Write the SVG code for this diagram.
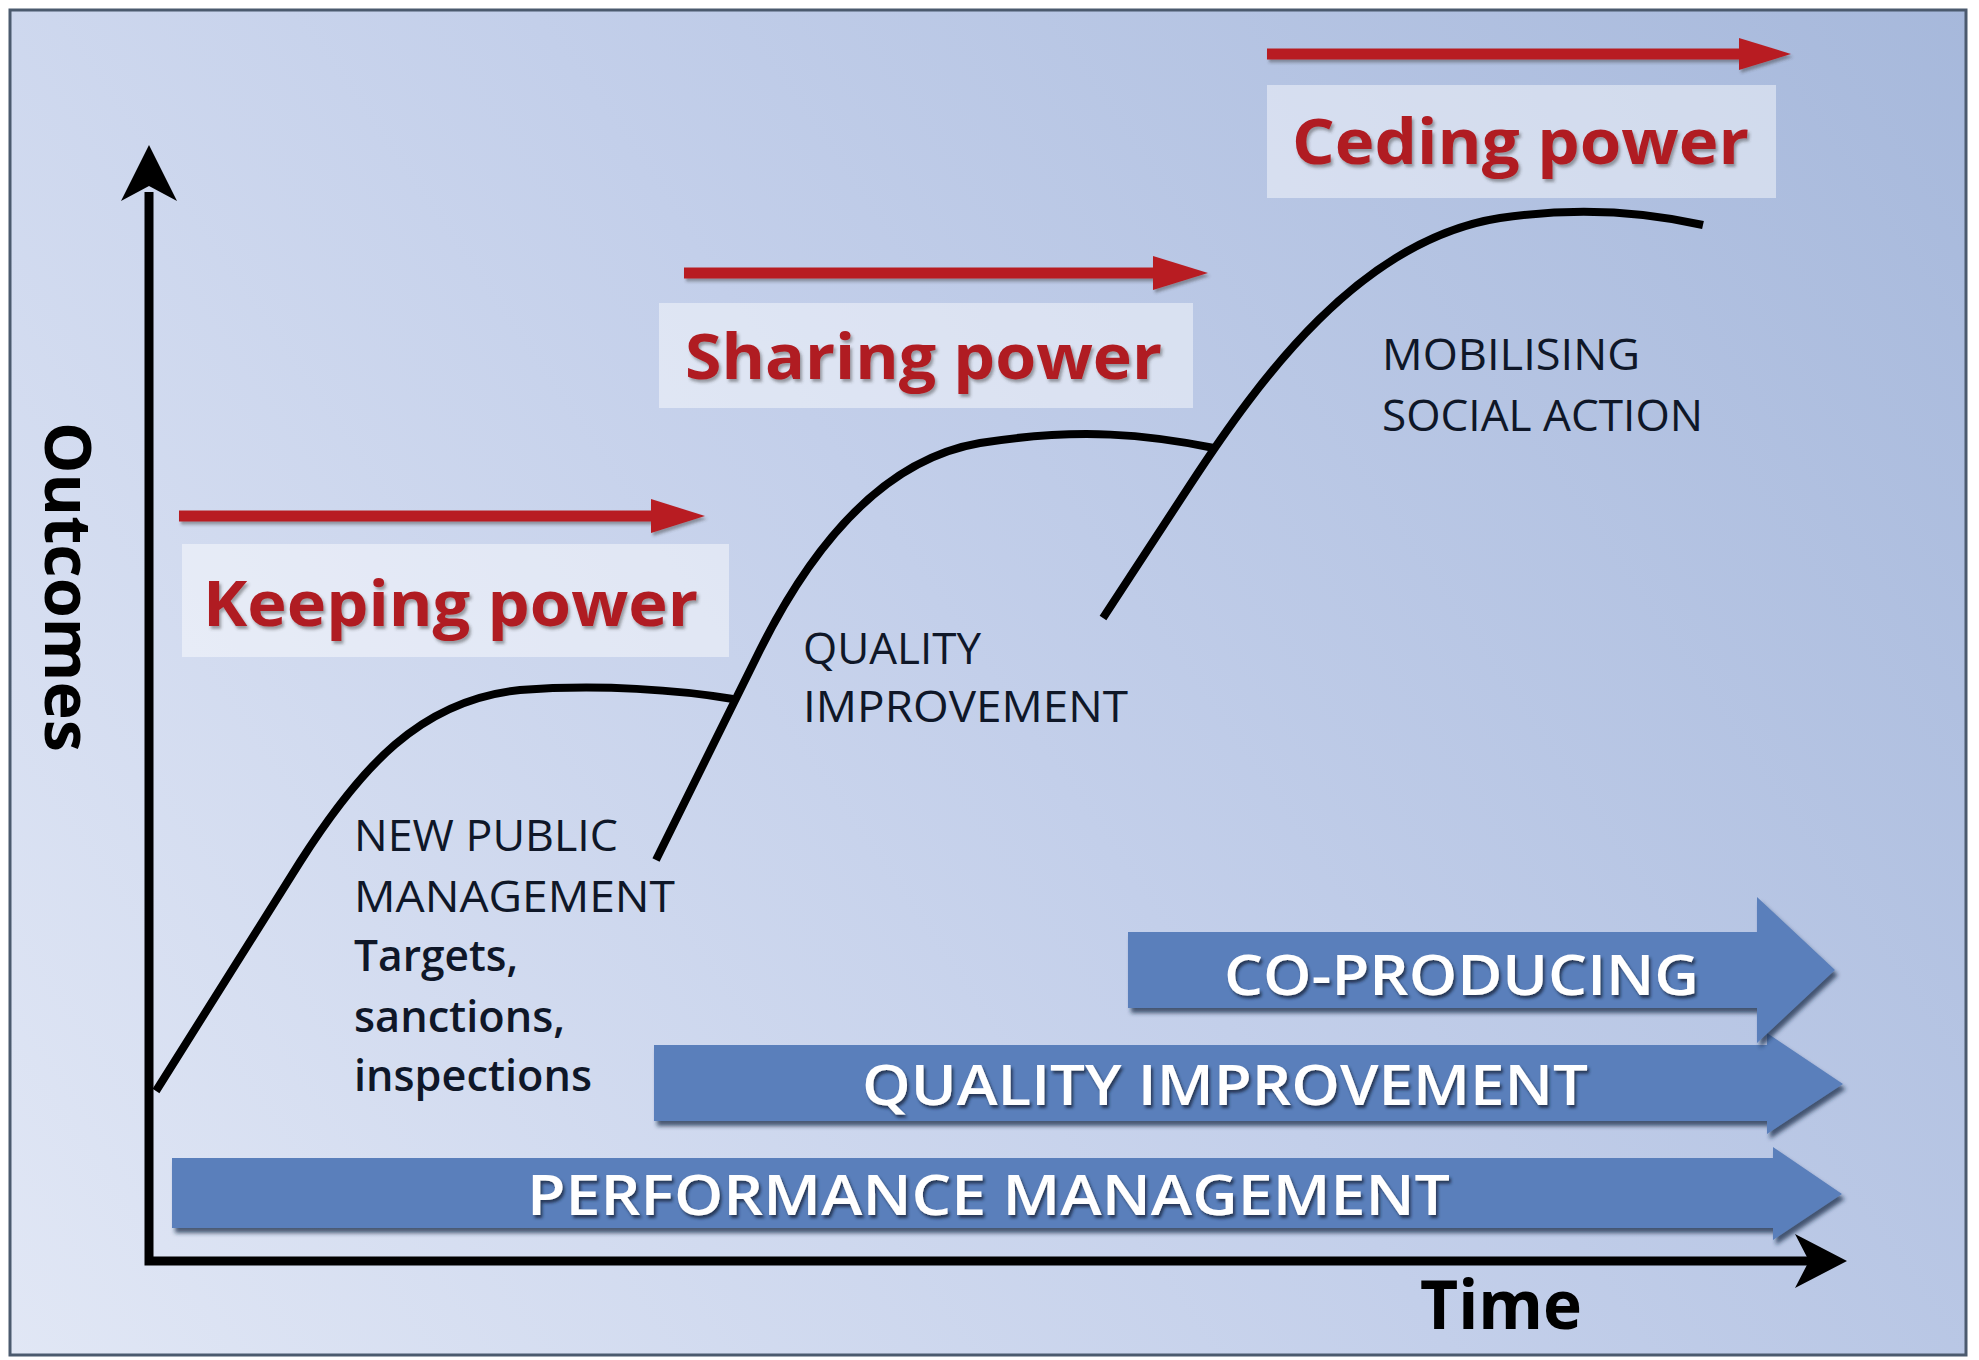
<svg xmlns="http://www.w3.org/2000/svg" width="1979" height="1360" viewBox="0 0 1979 1360">
<defs>
<linearGradient id="bg" x1="0" y1="1360" x2="1979" y2="0" gradientUnits="userSpaceOnUse">
<stop offset="0" stop-color="#e1e7f5"/>
<stop offset="0.5" stop-color="#c3cfea"/>
<stop offset="1" stop-color="#a6b8db"/>
</linearGradient>
<filter id="sh" x="-5%" y="-20%" width="110%" height="150%">
<feDropShadow dx="3" dy="5" stdDeviation="2" flood-color="#1e2d48" flood-opacity="0.75"/>
</filter>
<filter id="tsh" x="-5%" y="-20%" width="110%" height="150%">
<feDropShadow dx="2" dy="3" stdDeviation="1.5" flood-color="#3a3a3a" flood-opacity="0.45"/>
</filter>
<filter id="wsh" x="-5%" y="-20%" width="110%" height="150%">
<feDropShadow dx="2" dy="3" stdDeviation="1.5" flood-color="#1a2640" flood-opacity="0.8"/>
</filter>
<style>
.box{fill:#ffffff;fill-opacity:0.45}
.red{stroke:#b81e24;stroke-width:11;fill:none}
.redhead{fill:#b81e24}
.rlabel{font-family:"Open Sans","Liberation Sans",sans-serif;font-weight:700;font-size:63px;fill:#b01c22}
.lbl{font-family:"Open Sans","Liberation Sans",sans-serif;font-size:44px;font-weight:500;fill:#0f1728}
.lbl2{font-family:"Open Sans","Liberation Sans",sans-serif;font-size:44px;font-weight:600;fill:#0f1728}
.curve{fill:none;stroke:#000;stroke-width:8;stroke-linecap:butt}
.bar{fill:#5a7fbb}
.btxt{font-family:"Open Sans","Liberation Sans",sans-serif;font-size:56px;font-weight:600;fill:#ffffff}
.axis{fill:none;stroke:#000;stroke-width:9;stroke-linejoin:miter}
.big{font-family:"Open Sans","Liberation Sans",sans-serif;font-weight:700;fill:#000}
</style>
</defs>
<rect x="0" y="0" width="1979" height="1360" fill="#ffffff"/>
<rect x="10" y="10" width="1956" height="1345" fill="url(#bg)" stroke="#4b5a6e" stroke-width="3"/>

<g id="bars">
<g id="bar-performance" filter="url(#sh)">
<polygon class="bar" points="172,1158 1773,1158 1773,1147 1842,1194 1773,1240 1773,1228 172,1228"/>
<text class="btxt" x="527" y="1215" textLength="923" lengthAdjust="spacingAndGlyphs" filter="url(#wsh)">PERFORMANCE MANAGEMENT</text>
</g>
<g id="bar-quality" filter="url(#sh)">
<polygon class="bar" points="654,1045 1767,1045 1767,1033 1843,1084 1767,1134 1767,1121 654,1121"/>
<text class="btxt" x="862" y="1105" textLength="726" lengthAdjust="spacingAndGlyphs" filter="url(#wsh)">QUALITY IMPROVEMENT</text>
</g>
<g id="bar-coproducing" filter="url(#sh)">
<polygon class="bar" points="1128,932 1757,932 1757,897 1835,970 1757,1043 1757,1008 1128,1008"/>
<text class="btxt" x="1224" y="995" textLength="475" lengthAdjust="spacingAndGlyphs" filter="url(#wsh)">CO-PRODUCING</text>
</g>
</g>

<g id="connectors">
<path class="axis" d="M149,192 L149,1261 L1812,1261"/>
<polygon fill="#000" points="149,145 177,201 149,186 121,201"/>
<polygon fill="#000" points="1847,1261 1795,1288 1809,1261 1795,1234"/>
<path id="curve-npm" class="curve" d="M156,1091 L300,862 C360,768 420,700 520,690 C600,684 680,690 733,699"/>
<path id="curve-quality" class="curve" d="M656,860 L760,650 C810,550 880,460 980,443 C1080,427 1150,435 1214,448"/>
<path id="curve-mobilising" class="curve" d="M1103,618 L1190,485 C1260,378 1360,240 1500,218 C1580,206 1650,213 1703,225"/>
</g>

<g id="keeping-power">
<rect class="box" x="182" y="544" width="547" height="113"/>
<g filter="url(#tsh)">
<line class="red" x1="179" y1="516" x2="655" y2="516"/>
<polygon class="redhead" points="651,499 705,516 651,533"/>
</g>
<text class="rlabel" x="203" y="626" textLength="495" lengthAdjust="spacingAndGlyphs" filter="url(#tsh)">Keeping power</text>
</g>

<g id="sharing-power">
<rect class="box" x="659" y="303" width="534" height="105"/>
<g filter="url(#tsh)">
<line class="red" x1="684" y1="273" x2="1157" y2="273"/>
<polygon class="redhead" points="1153,256 1208,273 1153,290"/>
</g>
<text class="rlabel" x="685" y="379" textLength="477" lengthAdjust="spacingAndGlyphs" filter="url(#tsh)">Sharing power</text>
</g>

<g id="ceding-power">
<rect class="box" x="1267" y="85" width="509" height="113"/>
<g filter="url(#tsh)">
<line class="red" x1="1267" y1="54" x2="1743" y2="54"/>
<polygon class="redhead" points="1739,38 1791,54 1739,70"/>
</g>
<text class="rlabel" x="1292" y="164" textLength="457" lengthAdjust="spacingAndGlyphs" filter="url(#tsh)">Ceding power</text>
</g>

<g id="npm-label">
<text class="lbl" x="354" y="851" textLength="264" lengthAdjust="spacingAndGlyphs">NEW PUBLIC</text>
<text class="lbl" x="354" y="912" textLength="321" lengthAdjust="spacingAndGlyphs">MANAGEMENT</text>
<text class="lbl2" x="354" y="971" textLength="164" lengthAdjust="spacingAndGlyphs">Targets,</text>
<text class="lbl2" x="354" y="1032" textLength="211" lengthAdjust="spacingAndGlyphs">sanctions,</text>
<text class="lbl2" x="354" y="1091" textLength="238" lengthAdjust="spacingAndGlyphs">inspections</text>
</g>

<g id="quality-label">
<text class="lbl" x="803" y="664" textLength="178" lengthAdjust="spacingAndGlyphs">QUALITY</text>
<text class="lbl" x="803" y="722" textLength="325" lengthAdjust="spacingAndGlyphs">IMPROVEMENT</text>
</g>

<g id="mobilising-label">
<text class="lbl" x="1382" y="370" textLength="258" lengthAdjust="spacingAndGlyphs">MOBILISING</text>
<text class="lbl" x="1382" y="431" textLength="321" lengthAdjust="spacingAndGlyphs">SOCIAL ACTION</text>
</g>

<g id="axis-labels">
<text class="big" font-size="64" transform="translate(45,422) rotate(90)" x="0" y="0" textLength="330" lengthAdjust="spacingAndGlyphs">Outcomes</text>
<text class="big" font-size="68" x="1420" y="1329" textLength="162" lengthAdjust="spacingAndGlyphs">Time</text>
</g>
</svg>
